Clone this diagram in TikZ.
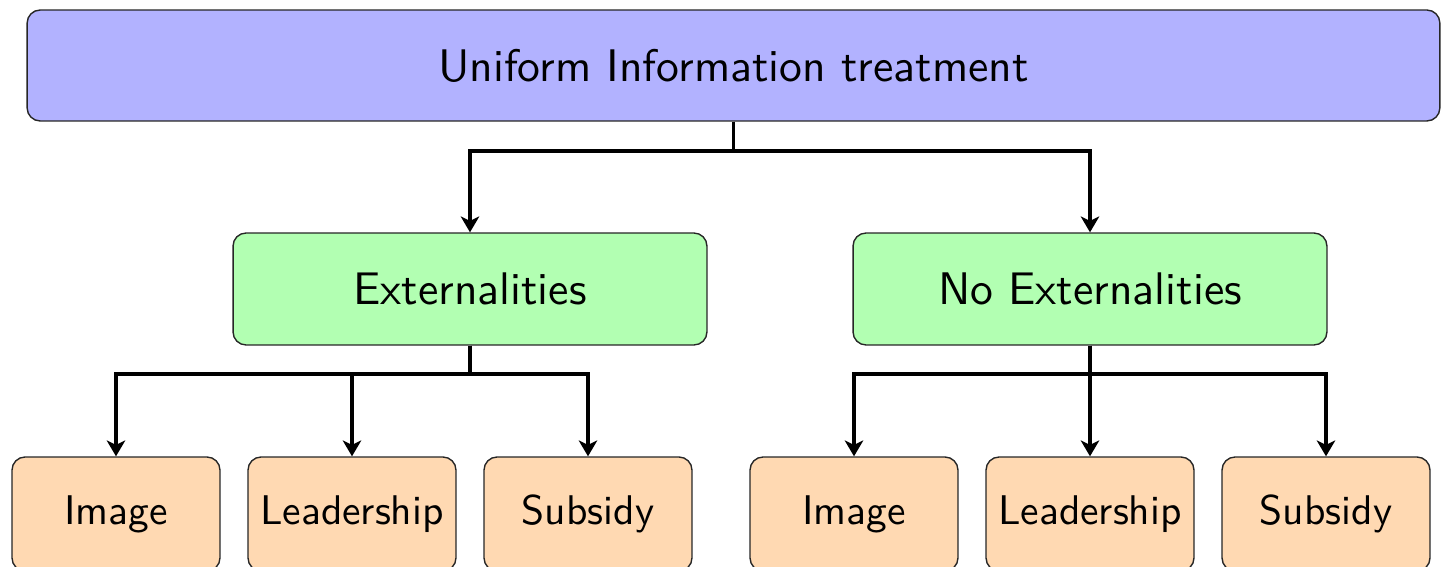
\documentclass[tikz,border=0pt]{standalone}
\usepackage{fontspec}
\newfontfamily\lmten{lmsans10-regular}[Extension=.otf]
\usetikzlibrary{arrows.meta}
\begin{document}
\begin{tikzpicture}[x=0.02cm,y=-0.02cm,
  box/.style={draw=black!85, line width=0.8pt, rounded corners=0.26cm, align=center,
     font=\lmten\fontsize{26}{31}\selectfont, inner sep=0pt},
  topbox/.style={box, fill=blue!30, minimum width=28.26cm, minimum height=2.22cm},
  midbox/.style={box, fill=green!30, minimum width=9.48cm, minimum height=2.24cm},
  leafbox/.style={box, fill=orange!30, minimum width=4.16cm, minimum height=2.28cm,
     font=\lmten\fontsize{23.6}{28}\selectfont},
  conn/.style={line width=2.2pt, -{Stealth[length=9pt,width=10.5pt,inset=2.5pt]}}]
\clip (0,0) rectangle (1441,567);
\node[topbox] (top) at (733.5,65.5) {Uniform Information treatment};
\node[midbox] (ext) at (470,289) {Externalities};
\node[midbox] (noext) at (1090,289) {No Externalities};
\node[leafbox] (a1) at (116,514) {Image};
\node[leafbox] (a2) at (352,514) {Leadership};
\node[leafbox] (a3) at (588,514) {Subsidy};
\node[leafbox] (b1) at (854,514) {Image};
\node[leafbox] (b2) at (1090,514) {Leadership};
\node[leafbox] (b3) at (1326,514) {Subsidy};
\draw[conn] (top.south) -- ++(0,29) -| (ext.north);
\draw[conn] (top.south) -- ++(0,29) -| (noext.north);
\draw[conn] (ext.south) -- ++(0,28) -| (a1.north);
\draw[conn] (ext.south) -- ++(0,28) -| (a2.north);
\draw[conn] (ext.south) -- ++(0,28) -| (a3.north);
\draw[conn] (noext.south) -- ++(0,28) -| (b1.north);
\draw[conn] (noext.south) -- (b2.north);
\draw[conn] (noext.south) -- ++(0,28) -| (b3.north);
\end{tikzpicture}
\end{document}
